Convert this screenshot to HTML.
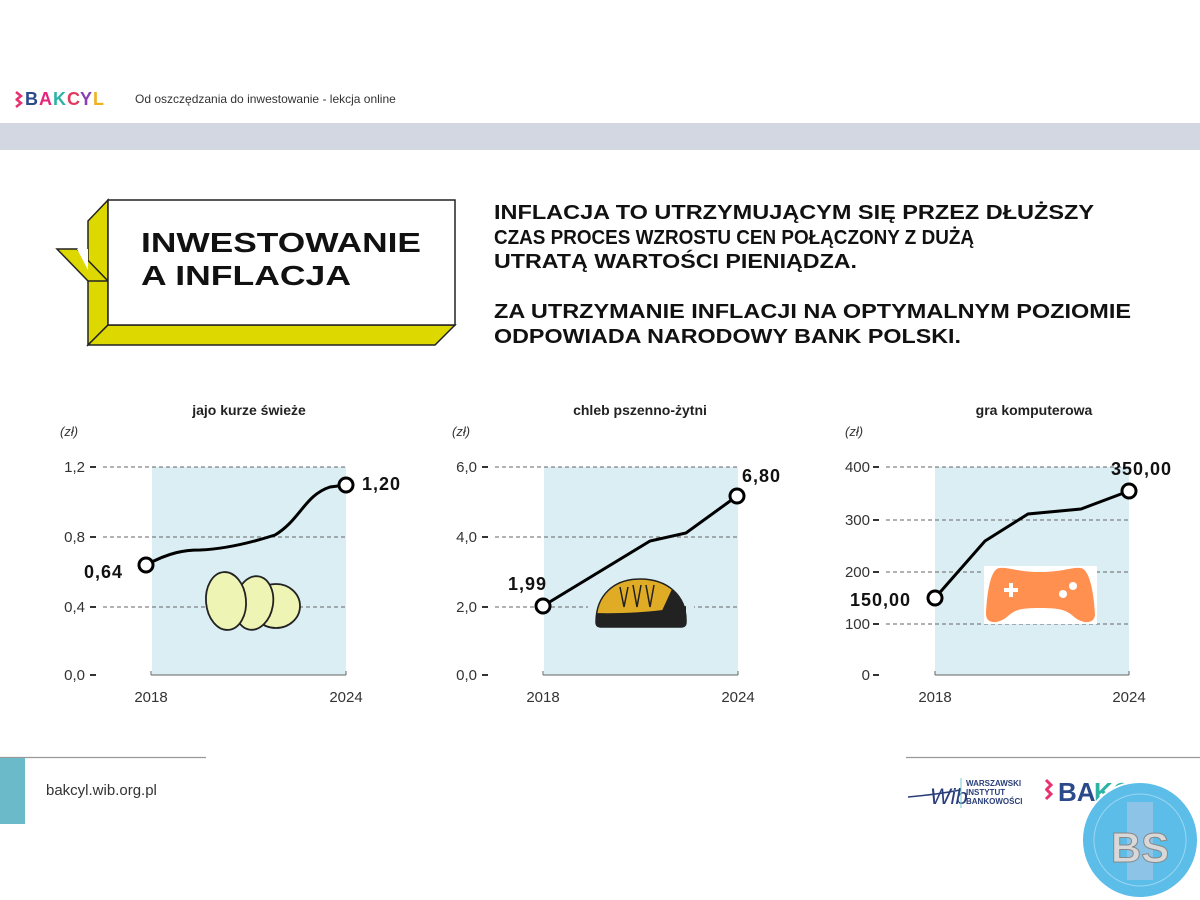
<!DOCTYPE html>
<html><head><meta charset="utf-8"><style>
html,body{margin:0;padding:0;background:#fff}
svg{display:block}
text{font-family:"Liberation Sans",sans-serif}
</style></head><body>
<svg width="1200" height="900" viewBox="0 0 1200 900" xmlns="http://www.w3.org/2000/svg">
<!-- header -->
<g font-weight="bold" font-size="18">
<path d="M16 92 l5 4 -5 4 M16 99 l5 4 -5 4" stroke="#e8326f" stroke-width="2.5" fill="none"/>
<text x="25" y="105" fill="#2a4a8c">B</text>
<text x="39" y="105" fill="#e4257a">A</text>
<text x="53" y="105" fill="#2db3a6">K</text>
<text x="67" y="105" fill="#e23a5d">C</text>
<text x="80" y="105" fill="#8c3fb0">Y</text>
<text x="93" y="105" fill="#f0b21c">L</text>
</g>
<text x="135" y="103" font-size="12" fill="#333">Od oszczędzania do inwestowanie - lekcja online</text>
<rect x="0" y="123" width="1200" height="27" fill="#d3d7e1"/>

<!-- title box -->
<g stroke="#222" stroke-width="1.5" stroke-linejoin="miter">
<polygon points="88,221 108,200 108,325 88,345" fill="#dcd800"/>
<polygon points="88,345 108,325 455,325 435,345" fill="#dcd800"/>
<polygon points="57,249 77,249 108,281 88,281" fill="#dcd800"/>
<polygon points="77,249 88,249 88,270" fill="#fff" stroke="none"/>
<rect x="108" y="200" width="347" height="125" fill="#fff"/>
</g>
<text x="141" y="252" font-size="28" font-weight="bold" fill="#111" textLength="280" lengthAdjust="spacingAndGlyphs">INWESTOWANIE</text>
<text x="141" y="285" font-size="28" font-weight="bold" fill="#111" textLength="210" lengthAdjust="spacingAndGlyphs">A INFLACJA</text>

<g font-size="20" font-weight="bold" fill="#111">
<text x="494" y="219" textLength="600" lengthAdjust="spacingAndGlyphs">INFLACJA TO UTRZYMUJĄCYM SIĘ PRZEZ DŁUŻSZY</text>
<text x="494" y="244" textLength="480" lengthAdjust="spacingAndGlyphs">CZAS PROCES WZROSTU CEN POŁĄCZONY Z DUŻĄ</text>
<text x="494" y="268" textLength="363" lengthAdjust="spacingAndGlyphs">UTRATĄ WARTOŚCI PIENIĄDZA.</text>
<text x="494" y="318" textLength="637" lengthAdjust="spacingAndGlyphs">ZA UTRZYMANIE INFLACJI NA OPTYMALNYM POZIOMIE</text>
<text x="494" y="343" textLength="467" lengthAdjust="spacingAndGlyphs">ODPOWIADA NARODOWY BANK POLSKI.</text>
</g>

<!-- chart 1 -->
<g>
<rect x="152" y="467" width="194" height="208" fill="#daeef3"/>
<g stroke="#666" stroke-width="1" stroke-dasharray="4,3">
<line x1="103" y1="467" x2="346" y2="467"/><line x1="103" y1="537" x2="346" y2="537"/><line x1="103" y1="607" x2="346" y2="607"/>
</g>
<g stroke="#333" stroke-width="2"><line x1="90" y1="467" x2="96" y2="467"/><line x1="90" y1="537" x2="96" y2="537"/><line x1="90" y1="607" x2="96" y2="607"/><line x1="90" y1="675" x2="96" y2="675"/></g>
<path d="M151 675 v-4 M151 675 H346 M346 675 v-4" stroke="#666" fill="none"/>
<g font-size="15" fill="#333" text-anchor="end"><text x="85" y="472">1,2</text><text x="85" y="542">0,8</text><text x="85" y="612">0,4</text><text x="85" y="680">0,0</text></g>
<text x="249" y="415" font-size="14" font-weight="bold" fill="#222" text-anchor="middle">jajo kurze świeże</text>
<text x="60" y="436" font-size="13" font-style="italic" fill="#333">(zł)</text>
<text x="151" y="702" font-size="15" fill="#333" text-anchor="middle">2018</text>
<text x="346" y="702" font-size="15" fill="#333" text-anchor="middle">2024</text>
<g stroke="#222" stroke-width="1.8">
<ellipse cx="276" cy="606" rx="24" ry="22" fill="#eef4b4"/>
<ellipse cx="254" cy="603" rx="19" ry="27" fill="#eef4b4" transform="rotate(10 254 603)"/>
<ellipse cx="226" cy="601" rx="20" ry="29" fill="#eef4b4" transform="rotate(-5 226 601)"/>
</g>
<path d="M146 565 C170 552 185 550 200 550 C225 549 250 543 275 535 C300 520 305 495 330 487 L346 485" stroke="#000" stroke-width="3" fill="none"/>
<circle cx="146" cy="565" r="7" fill="#fff" stroke="#000" stroke-width="3"/>
<circle cx="346" cy="485" r="7" fill="#fff" stroke="#000" stroke-width="3"/>
<text x="84" y="578" font-size="18" font-weight="bold" letter-spacing="1" fill="#111">0,64</text>
<text x="362" y="490" font-size="18" font-weight="bold" letter-spacing="1" fill="#111">1,20</text>
</g>

<!-- chart 2 -->
<g>
<rect x="544" y="467" width="194" height="208" fill="#daeef3"/>
<g stroke="#666" stroke-width="1" stroke-dasharray="4,3">
<line x1="495" y1="467" x2="738" y2="467"/><line x1="495" y1="537" x2="738" y2="537"/><line x1="495" y1="607" x2="738" y2="607"/>
</g>
<g stroke="#333" stroke-width="2"><line x1="482" y1="467" x2="488" y2="467"/><line x1="482" y1="537" x2="488" y2="537"/><line x1="482" y1="607" x2="488" y2="607"/><line x1="482" y1="675" x2="488" y2="675"/></g>
<path d="M543 675 v-4 M543 675 H738 M738 675 v-4" stroke="#666" fill="none"/>
<g font-size="15" fill="#333" text-anchor="end"><text x="477" y="472">6,0</text><text x="477" y="542">4,0</text><text x="477" y="612">2,0</text><text x="477" y="680">0,0</text></g>
<text x="640" y="415" font-size="14" font-weight="bold" fill="#222" text-anchor="middle">chleb pszenno-żytni</text>
<text x="452" y="436" font-size="13" font-style="italic" fill="#333">(zł)</text>
<text x="543" y="702" font-size="15" fill="#333" text-anchor="middle">2018</text>
<text x="738" y="702" font-size="15" fill="#333" text-anchor="middle">2024</text>
<rect x="588" y="598" width="106" height="18" fill="#daeef3"/>
<path d="M596 622 C596 595 614 579 640 579 C668 579 686 596 686 620 L686 622 C686 626 684 627 680 627 L602 627 C598 627 596 626 596 622 Z" fill="#e0ac25" stroke="#222" stroke-width="1.5"/>
<path d="M596 613 C620 614 660 612 686 606 L686 622 C686 626 684 627 680 627 L602 627 C598 627 596 626 596 622 Z" fill="#222"/>
<path d="M672 589 C684 598 686 610 686 615 L660 615 Z" fill="#222"/>
<path d="M620 587 l4 20 4 -20 M633 585 l4 22 4 -22 M646 585 l4 22 4 -22" stroke="#222" stroke-width="1.5" fill="none"/>
<polyline points="543,606 650,541 686,533 737,496" stroke="#000" stroke-width="3" fill="none"/>
<circle cx="543" cy="606" r="7" fill="#fff" stroke="#000" stroke-width="3"/>
<circle cx="737" cy="496" r="7" fill="#fff" stroke="#000" stroke-width="3"/>
<text x="508" y="590" font-size="18" font-weight="bold" letter-spacing="1" fill="#111">1,99</text>
<text x="742" y="482" font-size="18" font-weight="bold" letter-spacing="1" fill="#111">6,80</text>
</g>

<!-- chart 3 -->
<g>
<rect x="935" y="467" width="194" height="208" fill="#daeef3"/>
<g stroke="#666" stroke-width="1" stroke-dasharray="4,3">
<line x1="886" y1="467" x2="1129" y2="467"/><line x1="886" y1="520" x2="1129" y2="520"/><line x1="886" y1="572" x2="1129" y2="572"/><line x1="886" y1="624" x2="1129" y2="624"/>
</g>
<g stroke="#333" stroke-width="2"><line x1="873" y1="467" x2="879" y2="467"/><line x1="873" y1="520" x2="879" y2="520"/><line x1="873" y1="572" x2="879" y2="572"/><line x1="873" y1="624" x2="879" y2="624"/><line x1="873" y1="675" x2="879" y2="675"/></g>
<path d="M935 675 v-4 M935 675 H1129 M1129 675 v-4" stroke="#666" fill="none"/>
<g font-size="15" fill="#333" text-anchor="end"><text x="870" y="472">400</text><text x="870" y="525">300</text><text x="870" y="577">200</text><text x="870" y="629">100</text><text x="870" y="680">0</text></g>
<text x="1034" y="415" font-size="14" font-weight="bold" fill="#222" text-anchor="middle">gra komputerowa</text>
<text x="845" y="436" font-size="13" font-style="italic" fill="#333">(zł)</text>
<text x="935" y="702" font-size="15" fill="#333" text-anchor="middle">2018</text>
<text x="1129" y="702" font-size="15" fill="#333" text-anchor="middle">2024</text>
<rect x="984" y="566" width="113" height="58" fill="#fff"/>
<path d="M1000 568 C990 568 987 595 986 614 C986 624 998 625 1008 616 C1015 610 1020 608 1040 608 C1060 608 1066 610 1073 616 C1083 625 1095 624 1095 614 C1094 595 1090 568 1080 568 C1072 567 1062 572 1040 572 C1018 572 1008 567 1000 568 Z" fill="#ff9050"/>
<path d="M1004 590 h14 M1011 583 v14" stroke="#fff" stroke-width="4"/>
<circle cx="1073" cy="586" r="4" fill="#fff"/><circle cx="1063" cy="594" r="4" fill="#fff"/>
<polyline points="935,598 985,541 1028,514 1081,509 1129,491" stroke="#000" stroke-width="3" fill="none"/>
<circle cx="935" cy="598" r="7" fill="#fff" stroke="#000" stroke-width="3"/>
<circle cx="1129" cy="491" r="7" fill="#fff" stroke="#000" stroke-width="3"/>
<text x="850" y="606" font-size="18" font-weight="bold" letter-spacing="1" fill="#111">150,00</text>
<text x="1111" y="475" font-size="18" font-weight="bold" letter-spacing="1" fill="#111">350,00</text>
</g>

<!-- footer -->
<line x1="0" y1="757.5" x2="206" y2="757.5" stroke="#999" stroke-width="1.2"/>
<rect x="0" y="758" width="25" height="66" fill="#6bbac9"/>
<text x="46" y="795" font-size="15" fill="#333">bakcyl.wib.org.pl</text>
<line x1="906" y1="757.5" x2="1200" y2="757.5" stroke="#999" stroke-width="1.2"/>
<path d="M908 797 C930 795 945 793 960 790" stroke="#2a3f7a" stroke-width="1.5" fill="none"/>
<text x="930" y="804" font-size="22" font-style="italic" fill="#2a3f7a">Wib</text>
<line x1="961" y1="778" x2="961" y2="808" stroke="#7cc" stroke-width="1"/>
<g font-size="8" font-weight="bold" fill="#2a3f7a"><text x="966" y="786">WARSZAWSKI</text><text x="966" y="795">INSTYTUT</text><text x="966" y="804">BANKOWOŚCI</text></g>
<path d="M1046 780 l5 5 -5 5 M1046 789 l5 5 -5 5" stroke="#e8326f" stroke-width="3" fill="none"/>
<text x="1058" y="801" font-size="26" font-weight="bold" fill="#2a4a8c">BA</text>
<text x="1094" y="801" font-size="26" font-weight="bold" fill="#2db3a6">KCYL</text>
<circle cx="1140" cy="840" r="58" fill="#5bbde8" stroke="#fff" stroke-width="2"/>
<circle cx="1140" cy="840" r="46" fill="none" stroke="#9ad7f2" stroke-width="1"/>
<rect x="1127" y="802" width="26" height="78" fill="#8ec3e8"/>
<text x="1140" y="862" font-family="Liberation Serif" font-size="42" font-weight="bold" fill="#d8d8d8" stroke="#888" stroke-width="1" text-anchor="middle">BS</text>
</svg>
</body></html>
